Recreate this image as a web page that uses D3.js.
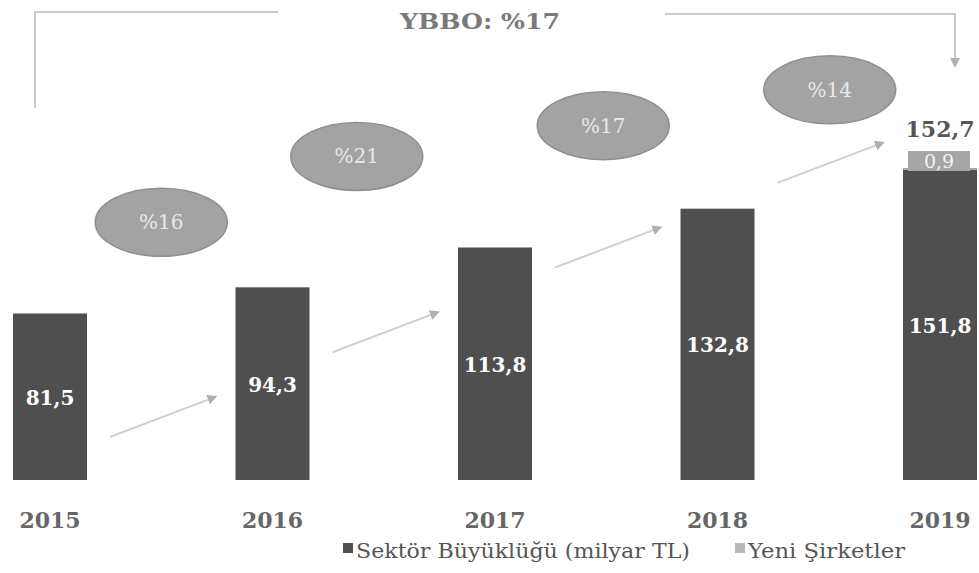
<!DOCTYPE html>
<html>
<head>
<meta charset="utf-8">
<script src="https://cdn.jsdelivr.net/npm/d3@7"></script>
<style>
  body { margin: 0; background: #fff; }
  text { font-family: "DejaVu Serif", "Liberation Serif", serif; }
</style>
</head>
<body>
<svg id="chart"></svg>
<script>
// Data
const years = ['2015', '2016', '2017', '2018', '2019'];
const sektor = [81.5, 94.3, 113.8, 132.8, 151.8];
const yeni = [0, 0, 0, 0, 0.9];
const growth = ['%16', '%21', '%17', '%14'];
const cagrLabel = 'YBBO: %17';
const legendLabels = ['Sektör Büyüklüğü (milyar TL)', 'Yeni Şirketler'];

const fmt = v => d3.format('.1f')(v).replace('.', ',');

// Canvas
let width = 979;
let height = 573;
let svg = d3.select('#chart').attr('width', width).attr('height', height);

const darkGrey = '#4f4f4f';
const lightGrey = '#a6a6a6';
const lineGrey = '#cacaca';

let xScale = d3.scaleBand()
    .domain(years)
    .range([13, 977])
    .paddingInner(0.6674)
    .paddingOuter(0);

let totals = sektor.map((v, i) => v + yeni[i]);
let yScale = d3.scaleLinear()
    .domain([0, d3.max(totals)])
    .range([480, 168]);

let bw = xScale.bandwidth();

let defs = svg.append('defs');
defs.append('marker')
    .attr('id', 'arrow')
    .attr('viewBox', '0 0 10 10')
    .attr('refX', 8).attr('refY', 5)
    .attr('markerWidth', 5).attr('markerHeight', 5)
    .attr('orient', 'auto-start-reverse')
    .append('path')
    .attr('d', 'M0,0 L10,5 L0,10 z')
    .attr('fill', '#b0b0b0');

// bracket for CAGR
let bracket = svg.append('g');
bracket.append('path')
    .attr('d', 'M35,108 L35,12 L278,12')
    .attr('fill', 'none').attr('stroke', lineGrey).attr('stroke-width', 2);
bracket.append('path')
    .attr('d', 'M665,14 L955,14 L955,66')
    .attr('fill', 'none').attr('stroke', lineGrey).attr('stroke-width', 2)
    .attr('marker-end', 'url(#arrow)');
bracket.append('text')
    .attr('x', 480).attr('y', 29)
    .attr('text-anchor', 'middle')
    .attr('font-size', 23).attr('font-weight', 'bold')
    .attr('fill', '#7a7a7a')
    .attr('textLength', 160).attr('lengthAdjust', 'spacingAndGlyphs')
    .text(cagrLabel);

// bars
svg.selectAll('.bar')
    .data(years)
    .enter()
    .append('rect')
    .attr('class', 'bar')
    .attr('x', d => xScale(d))
    .attr('width', bw)
    .attr('y', (d, i) => yScale(sektor[i]))
    .attr('height', (d, i) => yScale(0) - yScale(sektor[i]))
    .attr('fill', darkGrey);

svg.selectAll('.bar-yeni')
    .data(years.filter((d, i) => yeni[i] > 0))
    .enter()
    .append('rect')
    .attr('class', 'bar-yeni')
    .attr('x', d => xScale(d))
    .attr('width', bw)
    .attr('y', d => yScale(totals[years.indexOf(d)]))
    .attr('height', d => {
        let i = years.indexOf(d);
        return yScale(sektor[i]) - yScale(totals[i]);
    })
    .attr('fill', lightGrey);

// value labels inside bars
svg.selectAll('.val')
    .data(years)
    .enter()
    .append('text')
    .attr('class', 'val')
    .attr('x', d => xScale(d) + bw / 2)
    .attr('y', (d, i) => (yScale(sektor[i]) + yScale(0)) / 2 + 8)
    .attr('text-anchor', 'middle')
    .attr('font-size', 20).attr('font-weight', 'bold')
    .attr('fill', '#fff')
    .text((d, i) => fmt(sektor[i]));

// yeni sirketler label box + total
years.forEach((d, i) => {
    if (yeni[i] <= 0) return;
    let cx = xScale(d) + bw / 2;
    let top = yScale(totals[i]);
    svg.append('rect')
        .attr('x', cx - 32).attr('y', top - 17)
        .attr('width', 62).attr('height', 20)
        .attr('fill', lightGrey);
    svg.append('text')
        .attr('x', cx - 1).attr('y', top)
        .attr('text-anchor', 'middle')
        .attr('font-size', 19)
        .attr('fill', '#f2f2f2')
        .text(fmt(yeni[i]));
    svg.append('text')
        .attr('x', cx).attr('y', top - 31)
        .attr('text-anchor', 'middle')
        .attr('font-size', 22).attr('font-weight', 'bold')
        .attr('fill', '#555')
        .text(fmt(totals[i]));
});

// growth arrows between bars, along one rising line
let arrowY = d3.scaleLinear().domain([110, 890]).range([437, 140]);
growth.forEach((g, i) => {
    let x1 = xScale(years[i]) + bw + 23;
    let x2 = xScale(years[i + 1]) - 20;
    svg.append('line')
        .attr('x1', x1).attr('y1', arrowY(x1))
        .attr('x2', x2).attr('y2', arrowY(x2))
        .attr('stroke', '#d0d0d0').attr('stroke-width', 2)
        .attr('marker-end', 'url(#arrow)');
});

// growth bubbles
let bubbleShiftX = [0, -27, -3, 1];
let bubbleShiftY = [10, -16, -8, -5];
growth.forEach((g, i) => {
    let cx = (xScale(years[i]) + xScale(years[i + 1])) / 2 + bw / 2 + bubbleShiftX[i];
    let cy = yScale(sektor[i + 1]) - 75 + bubbleShiftY[i];
    svg.append('ellipse')
        .attr('cx', cx).attr('cy', cy)
        .attr('rx', 66).attr('ry', 34)
        .attr('fill', '#a3a3a3')
        .attr('stroke', '#8f8f8f').attr('stroke-width', 1.5);
    svg.append('text')
        .attr('x', cx).attr('y', cy + 7)
        .attr('text-anchor', 'middle')
        .attr('font-size', 20)
        .attr('fill', '#e8e8e8')
        .text(g);
});

// year labels
svg.selectAll('.year')
    .data(years)
    .enter()
    .append('text')
    .attr('class', 'year')
    .attr('x', d => xScale(d) + bw / 2)
    .attr('y', 528)
    .attr('text-anchor', 'middle')
    .attr('font-size', 22).attr('font-weight', 'bold')
    .attr('fill', '#666')
    .text(d => d);

// legend
let legend = svg.append('g');
legend.append('rect').attr('x', 343).attr('y', 543).attr('width', 10).attr('height', 10).attr('fill', darkGrey);
legend.append('text').attr('x', 356).attr('y', 558)
    .attr('font-size', 20).attr('fill', '#555')
    .attr('textLength', 334).attr('lengthAdjust', 'spacingAndGlyphs')
    .text(legendLabels[0]);
legend.append('rect').attr('x', 735).attr('y', 543).attr('width', 10).attr('height', 10).attr('fill', '#b8b8b8');
legend.append('text').attr('x', 748).attr('y', 558)
    .attr('font-size', 20).attr('fill', '#555')
    .attr('textLength', 157).attr('lengthAdjust', 'spacingAndGlyphs')
    .text(legendLabels[1]);
</script>
</body>
</html>
